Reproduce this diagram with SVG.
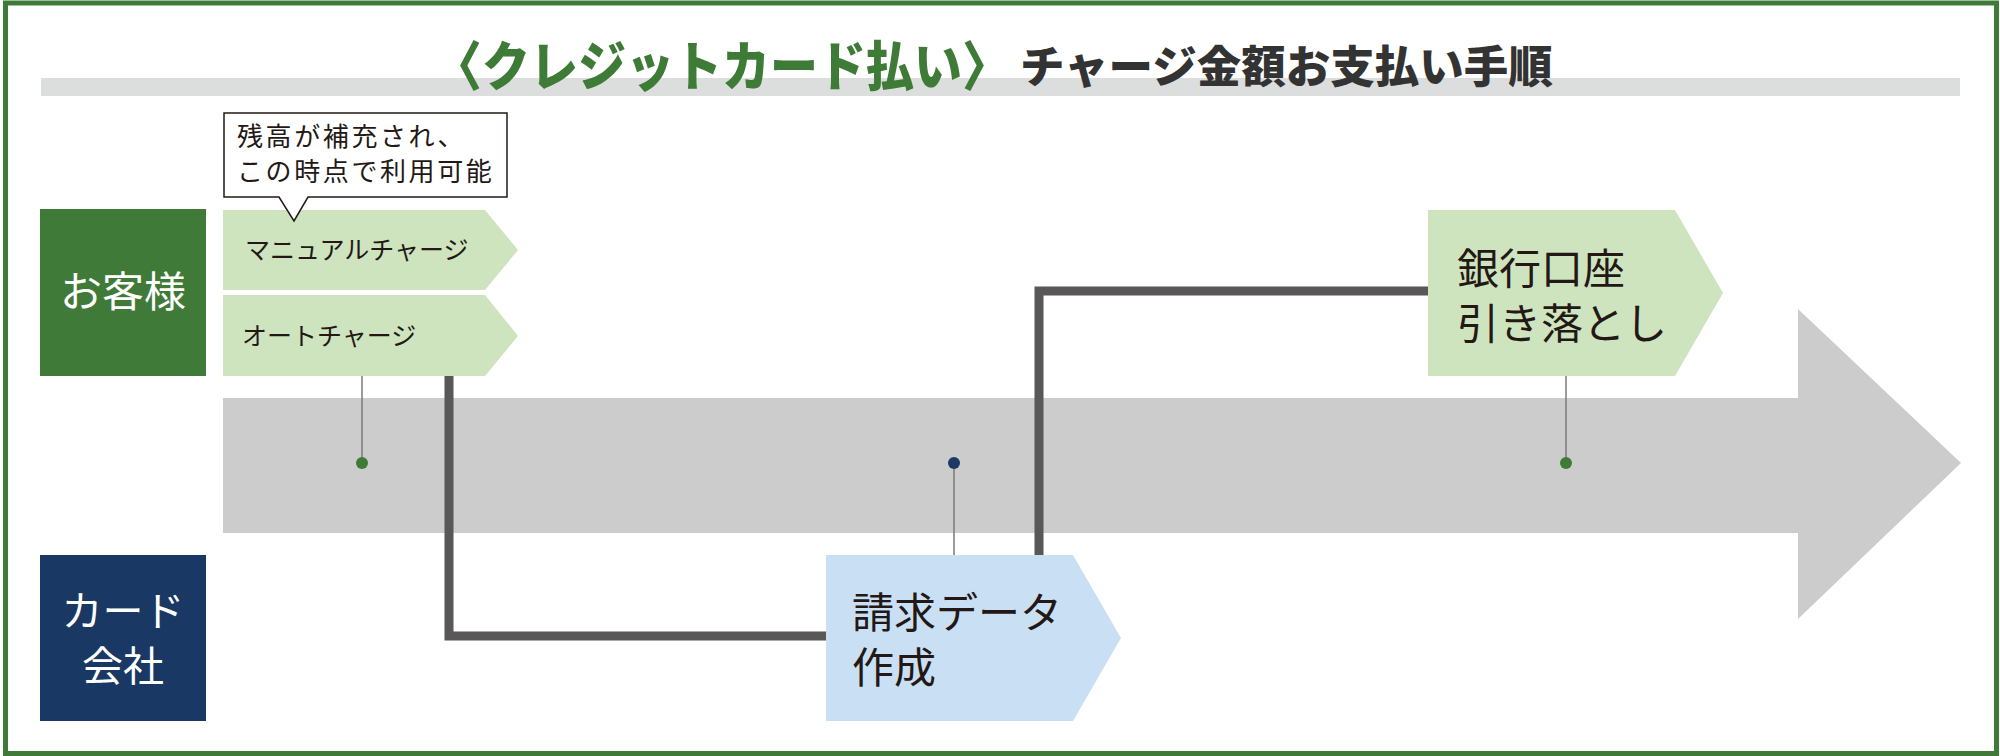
<svg xmlns="http://www.w3.org/2000/svg" width="2000" height="756" viewBox="0 0 2000 756">
<style>
.jp{font-family:"Noto Sans CJK JP","Noto Sans",sans-serif;}
.lg{fill:#cde4be;}
.lb{fill:#c9e0f4;}
.tx{fill:#231815;}
.wt{fill:#ffffff;}
.conn{fill:none;stroke:#595757;stroke-width:9;stroke-linejoin:miter;}
.thin{fill:none;stroke:#7a7a7a;stroke-width:1.5;}
</style>
<rect x="0" y="0" width="2000" height="756" fill="#ffffff"/>
<rect x="5.5" y="3" width="1991" height="750.5" fill="none" stroke="#3f7a38" stroke-width="5"/>

<g id="title">
<rect x="41" y="78" width="1919" height="18" fill="#dcdddd"/>
<text class="jp" transform="translate(434,86) scale(1,1.12)" x="0" y="0" font-size="48" font-weight="900" fill="#3e7b37">〈クレジットカード払い〉</text>
<text class="jp" x="1020" y="83" font-size="44.5" font-weight="900" fill="#333333">チャージ金額お支払い手順</text>
</g>

<g id="timeline">
<path d="M223,398 H1798 V309 L1961,463 L1798,619 V533 H223 Z" fill="#cccccc"/>
</g>

<g id="connectors">
<path class="conn" d="M449,376 V636 H826"/>
<path class="conn" d="M1039,555 V291 H1428"/>
<line class="thin" x1="362" y1="376" x2="362" y2="463"/>
<line class="thin" x1="954" y1="463" x2="954" y2="555"/>
<line class="thin" x1="1566" y1="376" x2="1566" y2="463"/>
<circle cx="362" cy="463" r="6" fill="#3e7b37"/>
<circle cx="954" cy="463" r="6" fill="#1b3a66"/>
<circle cx="1566" cy="463" r="6" fill="#3e7b37"/>
</g>

<g id="customer">
<rect x="40" y="209" width="166" height="167" fill="#3f7a38"/>
<text class="jp wt" x="123" y="307" font-size="42" text-anchor="middle">お客様</text>
</g>

<g id="card-company">
<rect x="40" y="555" width="166" height="166" fill="#1a3864"/>
<text class="jp wt" font-size="41" text-anchor="middle"><tspan x="123" y="626">カード</tspan><tspan x="123" y="681">会社</tspan></text>
</g>

<g id="manual-charge">
<path class="lg" d="M223,210 H485 L518,250 L485,290 H223 Z"/>
<text class="jp tx" x="245" y="259" font-size="25">マニュアルチャージ</text>
</g>

<g id="auto-charge">
<path class="lg" d="M223,295 H485 L518,336 L485,376 H223 Z"/>
<text class="jp tx" x="242" y="345" font-size="25">オートチャージ</text>
</g>

<g id="callout">
<path d="M224,113 H507 V197 H308 L294,221 L279,197 H224 Z" fill="#ffffff" stroke="#231815" stroke-width="1.5"/>
<text class="jp tx" font-size="26" letter-spacing="2.6"><tspan x="237" y="146">残高が補充され、</tspan><tspan x="237" y="180.5">この時点で利用可能</tspan></text>
</g>

<g id="billing-data">
<path class="lb" d="M826,555 H1073 L1121,638 L1073,721 H826 Z"/>
<text class="jp tx" font-size="42"><tspan x="852" y="628">請求データ</tspan><tspan x="852" y="683">作成</tspan></text>
</g>

<g id="bank-debit">
<path class="lg" d="M1428,210 H1675 L1723,293 L1675,376 H1428 Z"/>
<text class="jp tx" font-size="42"><tspan x="1457" y="284">銀行口座</tspan><tspan x="1457" y="339">引き落とし</tspan></text>
</g>
</svg>
